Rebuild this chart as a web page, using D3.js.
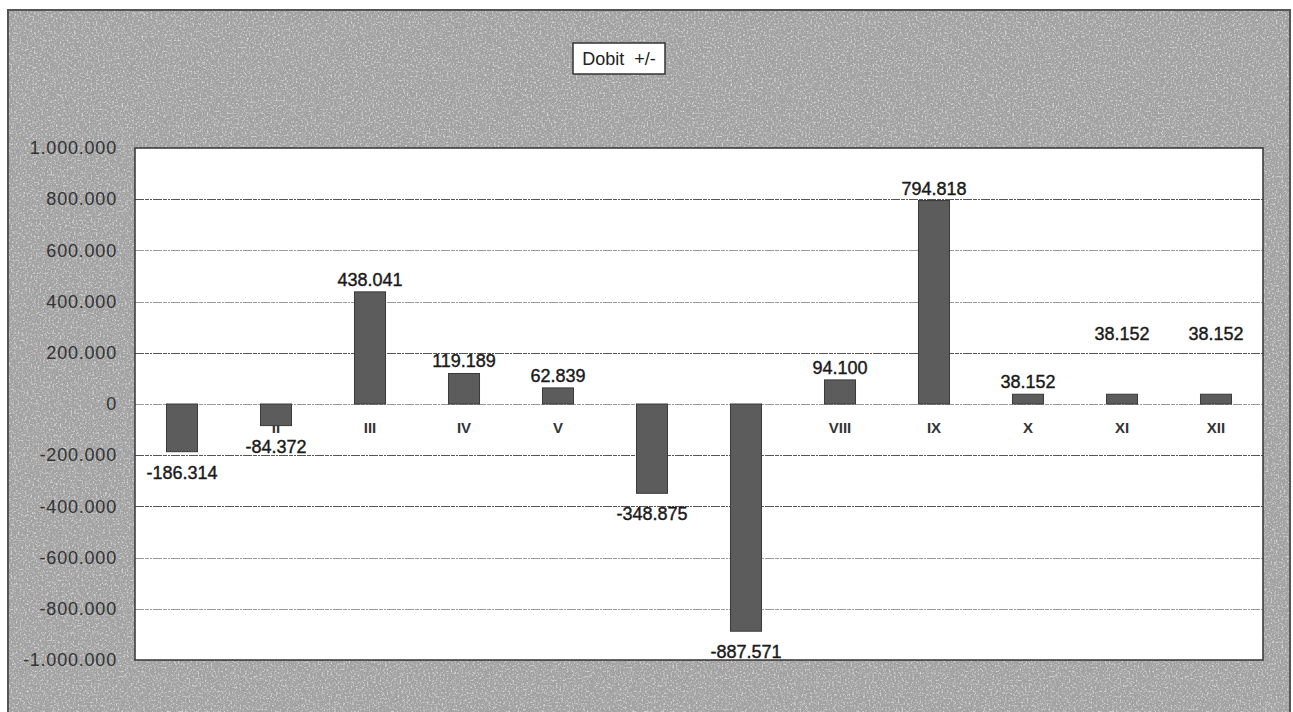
<!DOCTYPE html>
<html>
<head>
<meta charset="utf-8">
<script src="https://cdn.jsdelivr.net/npm/d3@7"></script>
<style>
  html, body { margin: 0; padding: 0; background: #fff; }
  svg { display: block; font-family: "Liberation Sans", Arial, sans-serif; }
</style>
</head>
<body>
<div id="chart"></div>
<script>
// chart data
const months = ['I', 'II', 'III', 'IV', 'V', 'VI', 'VII', 'VIII', 'IX', 'X', 'XI', 'XII'];
const balance = [-186314, -84372, 438041, 119189, 62839, -348875, -887571, 94100, 794818, 38152, 38152, 38152];
const yTicks = [-1000000, -800000, -600000, -400000, -200000, 0, 200000, 400000, 600000, 800000, 1000000];
const title = 'Dobit  +/-';

const width = 1293;
const height = 712;
const plot = { left: 135, top: 148, right: 1263, bottom: 660 };

const locale = d3.formatLocale({ decimal: ',', thousands: '.', grouping: [3], currency: ['', ''] });
const fmt = locale.format(',d');

const svg = d3.select('#chart').append('svg')
  .attr('width', width)
  .attr('height', height);

// scanned paper look
const defs = svg.append('defs');
const speck = defs.append('filter').attr('id', 'speck')
  .attr('x', 0).attr('y', 0).attr('width', '100%').attr('height', '100%');
speck.append('feTurbulence')
  .attr('type', 'fractalNoise')
  .attr('baseFrequency', 0.55)
  .attr('numOctaves', 2)
  .attr('seed', 4);
speck.append('feColorMatrix')
  .attr('type', 'matrix')
  .attr('values', '0 0 0 0 1  0 0 0 0 1  0 0 0 0 1  3.2 0 0 0 -1.55');

const dark = defs.append('filter').attr('id', 'dark')
  .attr('x', 0).attr('y', 0).attr('width', '100%').attr('height', '100%');
dark.append('feTurbulence')
  .attr('type', 'fractalNoise')
  .attr('baseFrequency', 0.09)
  .attr('numOctaves', 3)
  .attr('seed', 9);
dark.append('feColorMatrix')
  .attr('type', 'matrix')
  .attr('values', '0 0 0 0 0.35  0 0 0 0 0.35  0 0 0 0 0.35  0 1.6 0 0 -0.75');

svg.append('rect')
  .attr('x', 8).attr('y', 10)
  .attr('width', 1282).attr('height', 712)
  .attr('fill', '#a2a2a2')
  .attr('stroke', '#555')
  .attr('stroke-width', 2);
svg.append('rect')
  .attr('x', 9).attr('y', 11)
  .attr('width', 1280).attr('height', 712)
  .attr('filter', 'url(#dark)')
  .attr('opacity', 0.6);
svg.append('rect')
  .attr('x', 9).attr('y', 11)
  .attr('width', 1280).attr('height', 712)
  .attr('filter', 'url(#speck)')
  .attr('opacity', 0.55);

// title box
const titleG = svg.append('g');
titleG.append('rect')
  .attr('x', 573).attr('y', 43)
  .attr('width', 92).attr('height', 31)
  .attr('fill', '#fff')
  .attr('stroke', '#333')
  .attr('stroke-width', 1.5);
titleG.append('text')
  .attr('x', 619).attr('y', 65)
  .attr('text-anchor', 'middle')
  .attr('font-size', 18)
  .attr('fill', '#222')
  .attr('xml:space', 'preserve')
  .text(title);

// scales
const x = d3.scaleBand()
  .domain(months)
  .range([plot.left, plot.right])
  .paddingInner(0.67)
  .paddingOuter(0.335);

const y = d3.scaleLinear()
  .domain([-1000000, 1000000])
  .range([plot.bottom, plot.top]);

// plot area
svg.append('rect')
  .attr('x', plot.left).attr('y', plot.top)
  .attr('width', plot.right - plot.left)
  .attr('height', plot.bottom - plot.top)
  .attr('fill', '#fff');

svg.append('g')
  .selectAll('line')
  .data(yTicks.filter(d => Math.abs(d) < 1000000))
  .join('line')
  .attr('x1', plot.left)
  .attr('x2', plot.right)
  .attr('y1', d => Math.round(y(d)) + 0.5)
  .attr('y2', d => Math.round(y(d)) + 0.5)
  .attr('stroke', d => (d === 800000 || d === 200000 || d === -200000 || d === -400000) ? '#555' : '#9a9a9a')
  .attr('stroke-width', 1)
  .attr('stroke-dasharray', '9,1,4,1,2,1');

// y axis labels
const yAxis = d3.axisLeft(y)
  .tickValues(yTicks)
  .tickFormat(d => fmt(d).replace('−', '-'))
  .tickSize(0)
  .tickPadding(18);

svg.append('g')
  .attr('transform', `translate(${plot.left},0)`)
  .call(yAxis)
  .call(g => g.select('.domain').remove())
  .call(g => g.selectAll('text')
    .attr('font-size', 18)
    .attr('font-family', '"Liberation Sans", Arial, sans-serif')
    .attr('fill', '#333')
    .attr('letter-spacing', 0.8));

// category labels (sit under the bars, so negative bars cover them)
svg.append('g')
  .selectAll('text')
  .data(months)
  .join('text')
  .attr('x', d => x(d) + x.bandwidth() / 2)
  .attr('y', y(0) + 29)
  .attr('text-anchor', 'middle')
  .attr('font-size', 15)
  .attr('font-weight', 'bold')
  .attr('font-family', '"Liberation Sans Narrow", "Liberation Sans", Arial, sans-serif')
  .attr('fill', '#333')
  .text(d => d);

// bars
const data = months.map((m, i) => ({ month: m, value: balance[i] }));

svg.append('g')
  .selectAll('rect')
  .data(data)
  .join('rect')
  .attr('x', d => x(d.month))
  .attr('y', d => y(Math.max(0, d.value)))
  .attr('width', x.bandwidth())
  .attr('height', d => Math.abs(y(d.value) - y(0)))
  .attr('fill', '#5c5c5c')
  .attr('stroke', '#3a3a3a')
  .attr('stroke-width', 1);

// value labels
const lifted = new Set(['XI', 'XII']);
svg.append('g')
  .selectAll('text')
  .data(data)
  .join('text')
  .attr('x', d => x(d.month) + x.bandwidth() / 2)
  .attr('y', d => {
    if (d.value < 0) return y(d.value) + 27;
    return y(d.value) - 6 - (lifted.has(d.month) ? 48 : 0);
  })
  .attr('text-anchor', 'middle')
  .attr('font-size', 18)
  .attr('fill', '#1a1a1a')
  .attr('stroke', '#1a1a1a')
  .attr('stroke-width', 0.4)
  .text(d => fmt(d.value).replace('−', '-'));

// plot border on top
svg.append('rect')
  .attr('x', plot.left).attr('y', plot.top)
  .attr('width', plot.right - plot.left)
  .attr('height', plot.bottom - plot.top)
  .attr('fill', 'none')
  .attr('stroke', '#333')
  .attr('stroke-width', 1.5);
</script>
</body>
</html>
